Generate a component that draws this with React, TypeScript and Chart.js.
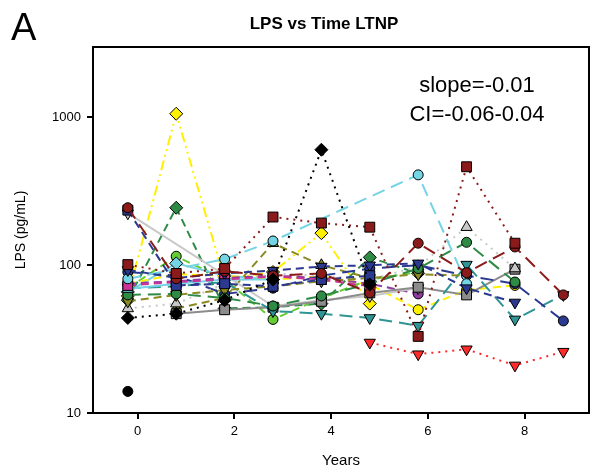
import React, { useEffect, useRef } from 'react';
import { Chart, registerables } from 'chart.js';
Chart.register(...registerables);

// ---------- data ----------
const YEARS = [-0.2, 0.8, 1.8, 2.8, 3.8, 4.8, 5.8, 6.8, 7.8, 8.8];
const Y_TICKS = [10, 100, 1000];
const X_TICKS = [0, 2, 4, 6, 8];
const TITLE = 'LPS vs Time LTNP';
const PANEL = 'A';
const SLOPE_TEXT = 'slope=-0.01';
const CI_TEXT = 'CI=-0.06-0.04';

const yellowDiamond = [62, 1060, 80, 90, 165, 55, null, null, null, null];
const greenDiamond = [58, 245, 51, 52, 55, 113, 88, null, null, null];
const blackDiamond = [44, 47, 58, 80, 605, 74, null, null, null, null];
const blackCircle = [14, null, null, null, null, null, null, null, null, null];
const cyanCircle = [81, null, 110, 146, null, null, 409, 75, null, null];
const cyanDiamond = [66, 103, 85, 80, null, null, null, null, null, null];
const cyanTriangle = [69, 75, 80, 80, null, null, null, null, null, null];
const darkRedSquare = [101, 88, 95, 212, 193, 181, 33, 464, 141, null];
const darkRedCircle = [245, 81, 91, 85, 88, 65, 141, 89, 133, 63];
const navySquare = [236, 73, 75, 72, 80, 85, null, null, null, null];
const navyCircle = [90, 85, 64, 70, 85, 95, 100, 85, 75, 42];
const navyDownTri = [93, 82, 88, 92, 98, 100, 103, 70, 56, null];
const redDownTri = [null, null, null, null, null, 30, 25, 27, 21, 26];
const tealDownTri = [70, 72, 77, 49, 47, 44, 39, 101, 43, 63];
const greySquare = [null, 47, 50, 52, 57, 65, 71, 63, 94, null];
const silverDownTri = [225, null, null, 53, 58, 62, 70, null, null, null];
const silverUpTri = [51, 55, 75, 88, 85, 80, 98, 181, 95, null];
const oliveUpTri = [null, 51, 60, 141, 100, 82, null, null, null, null];
const oliveDownTri = [57, 63, 68, 72, 78, 82, 87, 85, null, null];
const magentaSquare = [73, 77, 80, 84, 80, 72, null, null, null, null];
const purpleCircle = [75, 78, 82, 85, 82, 75, 64, null, null, null];
const greenCircle = [63, 64, 60, 53, 62, 75, 95, 143, 77, null];
const limeCircle = [70, 115, 80, 43, 60, 80, 90, null, null, null];
const yellowCircle = [75, 87, 85, 80, 84, 74, 50, 68, 73, null];

// ---------- styles ----------
const SOLID: number[] = [];
const DOT = [2, 5];
const DASH = [8, 5];
const LONG = [13, 7];
const DASHDOT = [10, 4, 2, 4, 2, 4];
const FONT = '"Liberation Sans", Arial, sans-serif';

const C = {
  yellow: '#FFF000',
  green: '#2E8B45',
  black: '#000000',
  cyan: '#74D4E4',
  darkRed: '#8B1A1A',
  navy: '#2B3990',
  red: '#FF2A2A',
  teal: '#2E9494',
  grey: '#8C8C8C',
  silver: '#C8C8C8',
  olive: '#8A8A22',
  magenta: '#CC3399',
  purple: '#8E3A9E',
  lime: '#66CC33',
};

type Marker = 'circle' | 'rect' | 'rectRot' | 'up' | 'down';
// first entries are drawn on top
const SERIES: [Array<number | null>, string, Marker, number[]][] = [
  [blackDiamond, C.black, 'rectRot', DOT],
  [blackCircle, C.black, 'circle', SOLID],
  [darkRedSquare, C.darkRed, 'rect', DOT],
  [darkRedCircle, C.darkRed, 'circle', LONG],
  [navySquare, C.navy, 'rect', DASH],
  [navyDownTri, C.navy, 'down', DASH],
  [cyanCircle, C.cyan, 'circle', LONG],
  [magentaSquare, C.magenta, 'rect', DASH],
  [cyanTriangle, C.cyan, 'up', SOLID],
  [greenCircle, C.green, 'circle', LONG],
  [oliveDownTri, C.olive, 'down', DASH],
  [silverUpTri, C.silver, 'up', DOT],
  [navyCircle, C.navy, 'circle', LONG],
  [redDownTri, C.red, 'down', DOT],
  [tealDownTri, C.teal, 'down', LONG],
  [greySquare, C.grey, 'rect', SOLID],
  [silverDownTri, C.silver, 'down', SOLID],
  [oliveUpTri, C.olive, 'up', DASH],
  [purpleCircle, C.purple, 'circle', DASH],
  [yellowCircle, C.yellow, 'circle', DASH],
  [cyanDiamond, C.cyan, 'rectRot', SOLID],
  [limeCircle, C.lime, 'circle', DASH],
  [greenDiamond, C.green, 'rectRot', DASH],
  [yellowDiamond, C.yellow, 'rectRot', DASHDOT],
];

const markerRadius = (m: Marker) =>
  m === 'circle' ? 5 : m === 'rect' ? 7 : 6.5;

const frameAndText = {
  id: 'frameAndText',
  beforeDatasetsDraw(chart: any) {
    const { ctx, chartArea: a } = chart;
    ctx.save();
    ctx.strokeStyle = '#000';
    ctx.lineWidth = 2;
    ctx.beginPath();
    ctx.moveTo(a.left, a.top);
    ctx.lineTo(a.right, a.top);
    ctx.lineTo(a.right, a.bottom);
    ctx.stroke();
    ctx.restore();
  },
  afterDraw(chart: any) {
    const { ctx } = chart;
    ctx.save();
    ctx.fillStyle = '#000';
    ctx.textAlign = 'center';
    ctx.textBaseline = 'middle';
    ctx.font = `bold 17px ${FONT}`;
    ctx.fillText(TITLE, 324, 24);
    ctx.textBaseline = 'alphabetic';
    ctx.font = `22px ${FONT}`;
    ctx.fillText(SLOPE_TEXT, 477, 92);
    ctx.fillText(CI_TEXT, 477, 121);
    ctx.textAlign = 'left';
    ctx.font = `38px ${FONT}`;
    ctx.fillText(PANEL, 11, 40);
    ctx.restore();
  },
};

export default function App() {
  const ref = useRef<HTMLCanvasElement | null>(null);
  useEffect(() => {
    document.body.style.margin = '0';
    const canvas = ref.current;
    if (!canvas) return;
    const datasets = SERIES.map(([vals, color, marker, dash]) => ({
      data: YEARS.map((x, i) => (vals[i] == null ? null : { x, y: vals[i] as number })).filter(
        (p) => p !== null
      ),
      borderColor: color,
      backgroundColor: color,
      borderWidth: 2,
      borderDash: dash,
      pointStyle: marker === 'up' || marker === 'down' ? 'triangle' : marker,
      rotation: marker === 'down' ? 180 : 0,
      pointRadius: markerRadius(marker),
      pointBorderColor: '#000',
      pointBorderWidth: 1,
      pointBackgroundColor: color,
      tension: 0,
      fill: false,
      showLine: true,
    }));
    const chart = new Chart(canvas, {
      type: 'scatter',
      data: { datasets: datasets as any },
      options: {
        animation: false,
        responsive: false,
        layout: { padding: { left: 0, right: 7, top: 47, bottom: 0 } },
        plugins: {
          legend: { display: false },
          tooltip: { enabled: false },
          title: { display: false },
        },
        scales: {
          x: {
            type: 'linear',
            min: -0.92,
            max: 9.33,
            afterBuildTicks: (s: any) => {
              s.ticks = X_TICKS.map((v) => ({ value: v }));
            },
            afterFit: (s: any) => {
              s.height = 59;
            },
            border: { display: true, color: '#000', width: 2 },
            grid: { drawOnChartArea: false, drawTicks: true, tickLength: 6, color: '#000', lineWidth: 2 },
            ticks: {
              color: '#000',
              padding: 5,
              font: { family: FONT, size: 13 },
            },
            title: {
              display: true,
              text: 'Years',
              color: '#000',
              font: { family: FONT, size: 15 },
              padding: { top: 0, bottom: 2 },
            },
          },
          y: {
            type: 'logarithmic',
            min: 10,
            max: 3000,
            afterBuildTicks: (s: any) => {
              s.ticks = Y_TICKS.map((v) => ({ value: v, major: true }));
            },
            afterFit: (s: any) => {
              s.width = 93;
            },
            border: { display: true, color: '#000', width: 2 },
            grid: { drawOnChartArea: false, drawTicks: true, tickLength: 6, color: '#000', lineWidth: 2 },
            ticks: {
              color: '#000',
              padding: 6,
              callback: (v: any) => String(v),
              font: { family: FONT, size: 13 },
            },
            title: {
              display: true,
              text: 'LPS (pg/mL)',
              color: '#000',
              font: { family: FONT, size: 14 },
              padding: { top: 13, bottom: 0 },
            },
          },
        },
      },
      plugins: [frameAndText],
    });
    return () => chart.destroy();
  }, []);
  return (
    <div style={{ width: 597, height: 472, background: '#fff' }}>
      <canvas ref={ref} width={597} height={472} />
    </div>
  );
}
